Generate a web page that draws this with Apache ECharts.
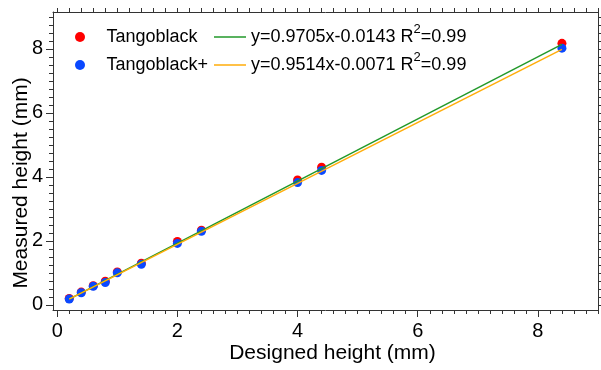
<!DOCTYPE html>
<html>
<head>
<meta charset="utf-8">
<script src="https://cdn.jsdelivr.net/npm/echarts@6/dist/echarts.min.js"></script>
<style>
  html, body { margin: 0; padding: 0; background: #fff; }
  #chart { width: 601px; height: 370px; }
</style>
</head>
<body>
<div id="chart"></div>
<script>
// designed vs measured heights (mm)
const designed = [0.2, 0.4, 0.6, 0.8, 1.0, 1.4, 2.0, 2.4, 4.0, 4.4, 8.4]
const tangoBlack = [0.20, 0.40, 0.60, 0.74, 1.03, 1.30, 1.98, 2.33, 3.90, 4.30, 8.17]
const tangoBlackPlus = [0.18, 0.38, 0.58, 0.70, 1.00, 1.27, 1.92, 2.30, 3.82, 4.20, 8.02]
// fitted lines, end points only
const fitX = [0.2, 8.4]
const fitBlack = [0.18, 8.14]
const fitBlackPlus = [0.18, 7.98]
const seriesNames = ['Tangoblack', 'Tangoblack+']
const fitNames = ['y=0.9705x-0.0143 R2=0.99', 'y=0.9514x-0.0071 R2=0.99']
// tick labels
const xTickLabels = [0, 2, 4, 6, 8]
const yTickLabels = [0, 2, 4, 6, 8]
const xMinorStep = 0.2, yMinorStep = 0.25

const font = "'Liberation Sans', Arial, sans-serif"
const axisColor = '#333'
const xMin = -0.07, xMax = 9, yMin = -0.16, yMax = 9.15
const box = { left: 53, right: 3, top: 12, bottom: 60, outerBoundsMode: 'none' }
const pairs = (xs, ys) => xs.map((x, i) => [x, ys[i]])

// minor tick positions between 0 and the axis max
function steps(step, max) {
  const out = []
  for (let i = 0; i * step <= max + 1e-9; i++) out.push(Math.round(i * step * 100) / 100)
  return out
}
const xMinor = steps(xMinorStep, xMax)
const yMinor = steps(yMinorStep, yMax)

// one axis helper, everything off unless asked for
function axis(extra, ticks, len, withLine) {
  return Object.assign({
    type: 'value',
    splitLine: { show: false },
    axisLine: { show: !!withLine, onZero: false, lineStyle: { color: axisColor, width: 1 } },
    axisTick: { show: true, inside: false, length: len, customValues: ticks, lineStyle: { color: axisColor, width: 1 } },
    axisLabel: { show: false },
    nameMoveOverlap: false
  }, extra)
}

const labelStyle = { show: true, fontSize: 20, color: '#000', fontFamily: font }

const option = {
  animation: false,
  backgroundColor: '#fff',
  grid: [Object.assign({}, box), Object.assign({}, box)],
  xAxis: [
    axis({
      gridIndex: 0, position: 'bottom', min: xMin, max: xMax,
      axisLabel: Object.assign({ margin: 11, customValues: xTickLabels }, labelStyle),
      name: 'Designed height (mm)', nameLocation: 'middle', nameGap: 33,
      nameTextStyle: { fontSize: 21, color: '#000', fontFamily: font, padding: [0, 0, 0, 14] }
    }, xTickLabels, 7, true),
    axis({ gridIndex: 0, position: 'top', min: xMin, max: xMax }, xMinor, 4, true),
    axis({ gridIndex: 1, position: 'bottom', min: xMin, max: xMax }, xMinor, 4, false)
  ],
  yAxis: [
    axis({
      gridIndex: 0, position: 'left', min: yMin, max: yMax,
      axisLabel: Object.assign({ margin: 10, customValues: yTickLabels }, labelStyle),
      name: 'Measured height (mm)', nameLocation: 'middle', nameGap: 21,
      nameTextStyle: { fontSize: 21, color: '#000', fontFamily: font, padding: [0, 44, 0, 0] }
    }, yTickLabels, 7, true),
    axis({ gridIndex: 0, position: 'right', min: yMin, max: yMax }, yMinor, 4, true),
    axis({ gridIndex: 1, position: 'left', min: yMin, max: yMax }, yMinor, 4, false)
  ],
  legend: [
    {
      data: seriesNames.map(n => ({ name: n, icon: 'circle' })),
      orient: 'vertical', left: 70, top: 18,
      itemWidth: 43, itemHeight: 10, itemGap: 0,
      selectedMode: false,
      textStyle: { fontSize: 18, lineHeight: 28, color: '#000', fontFamily: font }
    },
    {
      data: fitNames.map(n => ({ name: n, icon: 'rect' })),
      orient: 'vertical', left: 209, top: 18,
      itemWidth: 32, itemHeight: 1.5, itemGap: 0,
      selectedMode: false,
      formatter: name => name.replace('R2', 'R{sup|2}'),
      textStyle: {
        fontSize: 18, lineHeight: 28, color: '#000', fontFamily: font,
        rich: {
          sup: { fontSize: 13, lineHeight: 9, verticalAlign: 'top', color: '#000', fontFamily: font }
        }
      }
    }
  ],
  series: [
    {
      name: seriesNames[0], type: 'scatter', xAxisIndex: 0, yAxisIndex: 0,
      symbolSize: 9, itemStyle: { color: '#ff0000', opacity: 1 },
      data: pairs(designed, tangoBlack)
    },
    {
      name: seriesNames[1], type: 'scatter', xAxisIndex: 0, yAxisIndex: 0,
      symbolSize: 9, itemStyle: { color: '#0a48ff', opacity: 1 },
      data: pairs(designed, tangoBlackPlus)
    },
    {
      name: fitNames[0], type: 'line', xAxisIndex: 0, yAxisIndex: 0,
      symbol: 'none', color: '#22992a',
      lineStyle: { width: 1.5, color: '#22992a' },
      data: pairs(fitX, fitBlack)
    },
    {
      name: fitNames[1], type: 'line', xAxisIndex: 0, yAxisIndex: 0,
      symbol: 'none', color: '#ffad0a',
      lineStyle: { width: 1.5, color: '#ffad0a' },
      data: pairs(fitX, fitBlackPlus)
    }
  ]
}

echarts.init(document.getElementById('chart')).setOption(option)
</script>
</body>
</html>
